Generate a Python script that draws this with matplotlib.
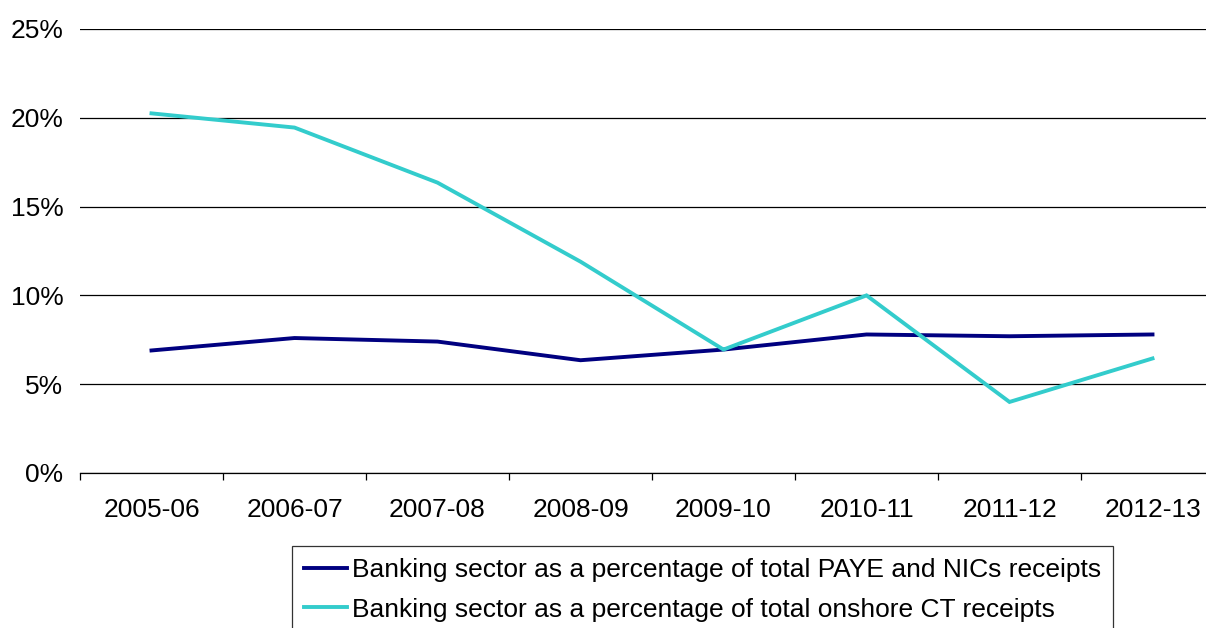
import numpy as np
import matplotlib.pyplot as plt
from matplotlib.ticker import FixedLocator, PercentFormatter

plt.rcParams["font.family"] = ["Liberation Sans", "DejaVu Sans"]

years = ["2005-06", "2006-07", "2007-08", "2008-09",
         "2009-10", "2010-11", "2011-12", "2012-13"]
paye_share = [6.9, 7.6, 7.4, 6.35, 6.95, 7.8, 7.7, 7.8]
ct_share = [20.25, 19.45, 16.35, 11.9, 6.95, 10.0, 4.0, 6.45]

label_paye = "Banking sector as a percentage of total PAYE and NICs receipts"
label_ct = "Banking sector as a percentage of total onshore CT receipts"

W, H = 1206, 628
fig = plt.figure(figsize=(W / 100, H / 100), dpi=100)
ax = fig.add_axes([80 / W, 1 - 473 / H, (1224 - 80) / W, (473 - 29) / H])

x = np.arange(len(years))
ax.plot(x, paye_share, color="#000080", lw=2.8, label=label_paye,
        solid_joinstyle="miter")
ax.plot(x, ct_share, color="#33CCCC", lw=2.8, label=label_ct,
        solid_joinstyle="miter")

ax.set_xlim(-0.5, len(years) - 0.5)
ax.set_ylim(0, 25)
ax.set_yticks(np.arange(0, 26, 5))
ax.yaxis.set_major_formatter(PercentFormatter(decimals=0))
ax.yaxis.grid(True, color="black", lw=0.9)
ax.set_axisbelow(True)

ax.set_xticks(x)
ax.set_xticklabels(years)
ax.xaxis.set_minor_locator(FixedLocator(np.arange(-0.5, len(years), 1.0)))
ax.tick_params(axis="x", which="major", length=0, pad=18, labelsize=19)
ax.tick_params(axis="x", which="minor", length=5, width=0.9, direction="out")
ax.tick_params(axis="y", length=0, pad=12, labelsize=19)

for s in ["left", "right", "top"]:
    ax.spines[s].set_visible(False)
ax.spines["bottom"].set_linewidth(0.9)

leg = fig.legend(loc="upper left", bbox_to_anchor=(292 / W, 1 - 546 / H),
                 fontsize=19, frameon=True, fancybox=False, edgecolor="black",
                 handlelength=1.65, handletextpad=0.17, labelspacing=0.6,
                 borderpad=0.45, borderaxespad=0)
leg.get_frame().set_linewidth(0.9)

fig.savefig("out.png", dpi=100)
